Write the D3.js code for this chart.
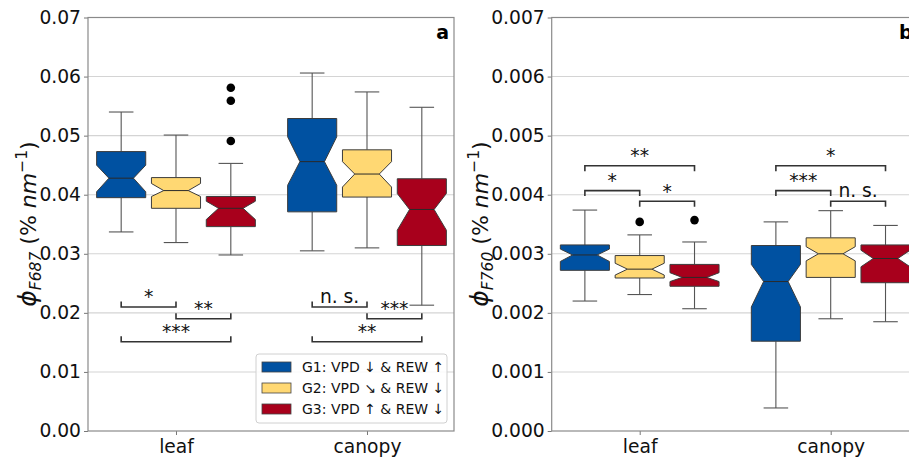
<!DOCTYPE html>
<html>
<head>
<meta charset="utf-8">
<script src="https://cdn.jsdelivr.net/npm/d3@7"></script>
<style>
  html, body { margin: 0; padding: 0; background: #fff; }
  svg { display: block; font-family: "DejaVu Sans", sans-serif; }
</style>
</head>
<body>
<svg id="chart" width="909" height="458"></svg>
<script>
// Groups (legend entries) and their fill colours
const groups = ["G1: VPD ↓ & REW ↑", "G2: VPD ↘ & REW ↓", "G3: VPD ↑ & REW ↓"];
const groupColors = ["#0051a1", "#ffd873", "#a8001c"];
const categories = ["leaf", "canopy"];

// Box statistics: [whiskerLow, q1, notchLow, median, notchHigh, q3, whiskerHigh]
// indexed [category][group]
const statsF687 = [
  [ [0.0337, 0.0395, 0.0405, 0.0428, 0.0450, 0.0473, 0.0540],
    [0.0319, 0.0377, 0.0397, 0.0407, 0.0419, 0.0429, 0.0501],
    [0.0298, 0.0346, 0.0358, 0.0377, 0.0389, 0.0397, 0.0453] ],
  [ [0.0305, 0.0371, 0.0416, 0.0456, 0.0498, 0.0529, 0.0606],
    [0.0310, 0.0396, 0.0413, 0.0435, 0.0456, 0.0476, 0.0574],
    [0.0213, 0.0314, 0.0340, 0.0375, 0.0402, 0.0427, 0.0548] ]
];
const outliersF687 = [
  [ [], [], [0.0491, 0.0559, 0.0581] ],
  [ [], [], [] ]
];

const statsF760 = [
  [ [0.00220, 0.00272, 0.00287, 0.00298, 0.00308, 0.00315, 0.00374],
    [0.00231, 0.00259, 0.00264, 0.00274, 0.00284, 0.00297, 0.00332],
    [0.00207, 0.00245, 0.00253, 0.00260, 0.00268, 0.00282, 0.00320] ],
  [ [0.00039, 0.00152, 0.00210, 0.00253, 0.00282, 0.00314, 0.00354],
    [0.00190, 0.00260, 0.00288, 0.00300, 0.00312, 0.00327, 0.00373],
    [0.00185, 0.00251, 0.00278, 0.00292, 0.00306, 0.00315, 0.00348] ]
];
const outliersF760 = [
  [ [], [0.00354], [0.00357] ],
  [ [], [], [] ]
];

// Pairwise significance: [category, groupA, groupB, level, label]
const sigF687 = [
  [0, 0, 1, 0.0210, "*"], [0, 1, 2, 0.0190, "**"], [0, 0, 2, 0.0151, "***"],
  [1, 0, 1, 0.0210, "n. s."], [1, 1, 2, 0.0190, "***"], [1, 0, 2, 0.0151, "**"]
];
const sigF760 = [
  [0, 0, 1, 0.00407, "*"], [0, 1, 2, 0.00389, "*"], [0, 0, 2, 0.00449, "**"],
  [1, 0, 1, 0.00407, "***"], [1, 1, 2, 0.00389, "n. s."], [1, 0, 2, 0.00449, "*"]
];

const ticksF687 = [0, 0.01, 0.02, 0.03, 0.04, 0.05, 0.06, 0.07];
const ticksF760 = [0, 0.001, 0.002, 0.003, 0.004, 0.005, 0.006, 0.007];

const svg = d3.select("#chart");
const groupOffset = 0.287;
const boxWidth = 0.257;
const plotTop = 17.5, plotBottom = 431, plotWidth = 366;

function panel(opts) {
  const g = svg.append("g");
  const x = d3.scaleLinear().domain([-0.4607, 1.4555]).range([opts.left, opts.left + plotWidth]);
  const y = d3.scaleLinear().domain([0, opts.ymax]).range([plotBottom, plotTop]);
  const bw = x(boxWidth) - x(0);

  // grid
  g.append("g").selectAll("line").data(opts.ticks.slice(1)).join("line")
    .attr("x1", opts.left).attr("x2", opts.left + plotWidth)
    .attr("y1", d => y(d)).attr("y2", d => y(d))
    .attr("stroke", "#d4d4d4").attr("stroke-width", 1.1);

  // axes
  const yAxis = d3.axisLeft(y).tickValues(opts.ticks).tickFormat(d3.format(opts.fmt))
    .tickSize(4).tickPadding(3);
  const ya = g.append("g").attr("transform", `translate(${opts.left},0)`).call(yAxis);
  ya.select(".domain").remove();
  ya.selectAll("line").attr("stroke", "#777");
  ya.selectAll("text").attr("font-size", 18.7).attr("fill", "#111").attr("font-family", "DejaVu Sans");

  const xAxis = d3.axisBottom(x).tickValues([0, 1]).tickFormat((d, i) => categories[i])
    .tickSize(4).tickPadding(5);
  const xa = g.append("g").attr("transform", `translate(0,${plotBottom})`).call(xAxis);
  xa.select(".domain").remove();
  xa.selectAll("line").attr("stroke", "#777");
  xa.selectAll("text").attr("font-size", 18.7).attr("fill", "#111").attr("font-family", "DejaVu Sans");

  // boxes
  opts.stats.forEach((cat, ci) => {
    cat.forEach((s, gi) => {
      const cx = x(ci + (gi - 1) * groupOffset);
      const [wlo, q1, nlo, med, nhi, q3, whi] = s;
      const bg = g.append("g");
      // whiskers and caps
      [[q1, wlo], [q3, whi]].forEach(([a, b]) => {
        bg.append("line").attr("x1", cx).attr("x2", cx).attr("y1", y(a)).attr("y2", y(b))
          .attr("stroke", "#555").attr("stroke-width", 1.1);
        bg.append("line").attr("x1", cx - bw / 4).attr("x2", cx + bw / 4)
          .attr("y1", y(b)).attr("y2", y(b))
          .attr("stroke", "#555").attr("stroke-width", 1.1);
      });
      const pts = [
        [cx - bw / 2, y(q1)], [cx - bw / 2, y(nlo)], [cx - bw / 4, y(med)],
        [cx - bw / 2, y(nhi)], [cx - bw / 2, y(q3)], [cx + bw / 2, y(q3)],
        [cx + bw / 2, y(nhi)], [cx + bw / 4, y(med)], [cx + bw / 2, y(nlo)],
        [cx + bw / 2, y(q1)]
      ];
      bg.append("path").attr("d", d3.line()(pts) + "Z")
        .attr("fill", groupColors[gi]).attr("stroke", "#3c3c3c").attr("stroke-width", 1);
      bg.append("line").attr("x1", cx - bw / 4).attr("x2", cx + bw / 4)
        .attr("y1", y(med)).attr("y2", y(med))
        .attr("stroke", "#2a2a2a").attr("stroke-width", 1);
      bg.selectAll("circle").data(opts.outliers[ci][gi]).join("circle")
        .attr("cx", cx).attr("cy", d => y(d)).attr("r", 4.3).attr("fill", "#000");
    });
  });

  // significance brackets
  opts.sig.forEach(([ci, a, b, lvl, label]) => {
    const x1 = x(ci + (a - 1) * groupOffset), x2 = x(ci + (b - 1) * groupOffset);
    const yy = y(lvl);
    const t = opts.tickDir * 5.5;
    g.append("path")
      .attr("d", `M${x1},${yy + t}L${x1},${yy}L${x2},${yy}L${x2},${yy + t}`)
      .attr("fill", "none").attr("stroke", "#333").attr("stroke-width", 1.6);
    g.append("text").attr("x", (x1 + x2) / 2).attr("y", yy - (label === "n. s." ? 4 : 3.5))
      .attr("text-anchor", "middle").attr("font-size", 18.7).attr("fill", "#111")
      .text(label);
  });

  // frame
  g.append("rect").attr("x", opts.left).attr("y", plotTop)
    .attr("width", plotWidth).attr("height", plotBottom - plotTop)
    .attr("fill", "none").attr("stroke", "#8a8a8a").attr("stroke-width", 1.2);

  // panel letter
  g.append("text").attr("x", opts.left + 361).attr("y", 39).attr("text-anchor", "end")
    .attr("font-size", 19).attr("font-weight", "bold").attr("fill", "#000").text(opts.letter);

  // y label
  const lab = g.append("text")
    .attr("transform", `translate(${opts.labelX},224) rotate(-90)`)
    .attr("text-anchor", "middle").attr("font-size", 22).attr("fill", "#111");
  lab.append("tspan").attr("font-style", "italic").attr("font-size", 25).text("ϕ");
  lab.append("tspan").attr("font-style", "italic").attr("font-size", 15.5).attr("dy", 5).text(opts.sub);
  lab.append("tspan").attr("dy", -5).text(" (% ");
  lab.append("tspan").attr("font-style", "italic").text("nm");
  lab.append("tspan").attr("font-size", 15.5).attr("dy", -9).text("−1");
  lab.append("tspan").attr("dy", 9).text(")");

  return { x, y };
}

panel({ left: 88, ymax: 0.07, ticks: ticksF687, fmt: ".2f", stats: statsF687,
        outliers: outliersF687, sig: sigF687, tickDir: -1, letter: "a", sub: "F687", labelX: 36 });
panel({ left: 551.7, ymax: 0.007, ticks: ticksF760, fmt: ".3f", stats: statsF760,
        outliers: outliersF760, sig: sigF760, tickDir: 1, letter: "b", sub: "F760", labelX: 488 });

// legend (panel a)
const lg = svg.append("g").attr("transform", "translate(256,354)");
lg.append("rect").attr("width", 191).attr("height", 69).attr("rx", 3)
  .attr("fill", "#fff").attr("fill-opacity", 0.85).attr("stroke", "#d0d0d0");
groups.forEach((name, i) => {
  const row = lg.append("g").attr("transform", `translate(0,${13 + i * 21})`);
  row.append("rect").attr("x", 6).attr("y", -5).attr("width", 29).attr("height", 10)
    .attr("fill", groupColors[i]).attr("stroke", "#444").attr("stroke-width", 0.8);
  row.append("text").attr("x", 46).attr("y", 5).attr("font-size", 14)
    .attr("fill", "#111").text(name);
});
</script>
</body>
</html>
